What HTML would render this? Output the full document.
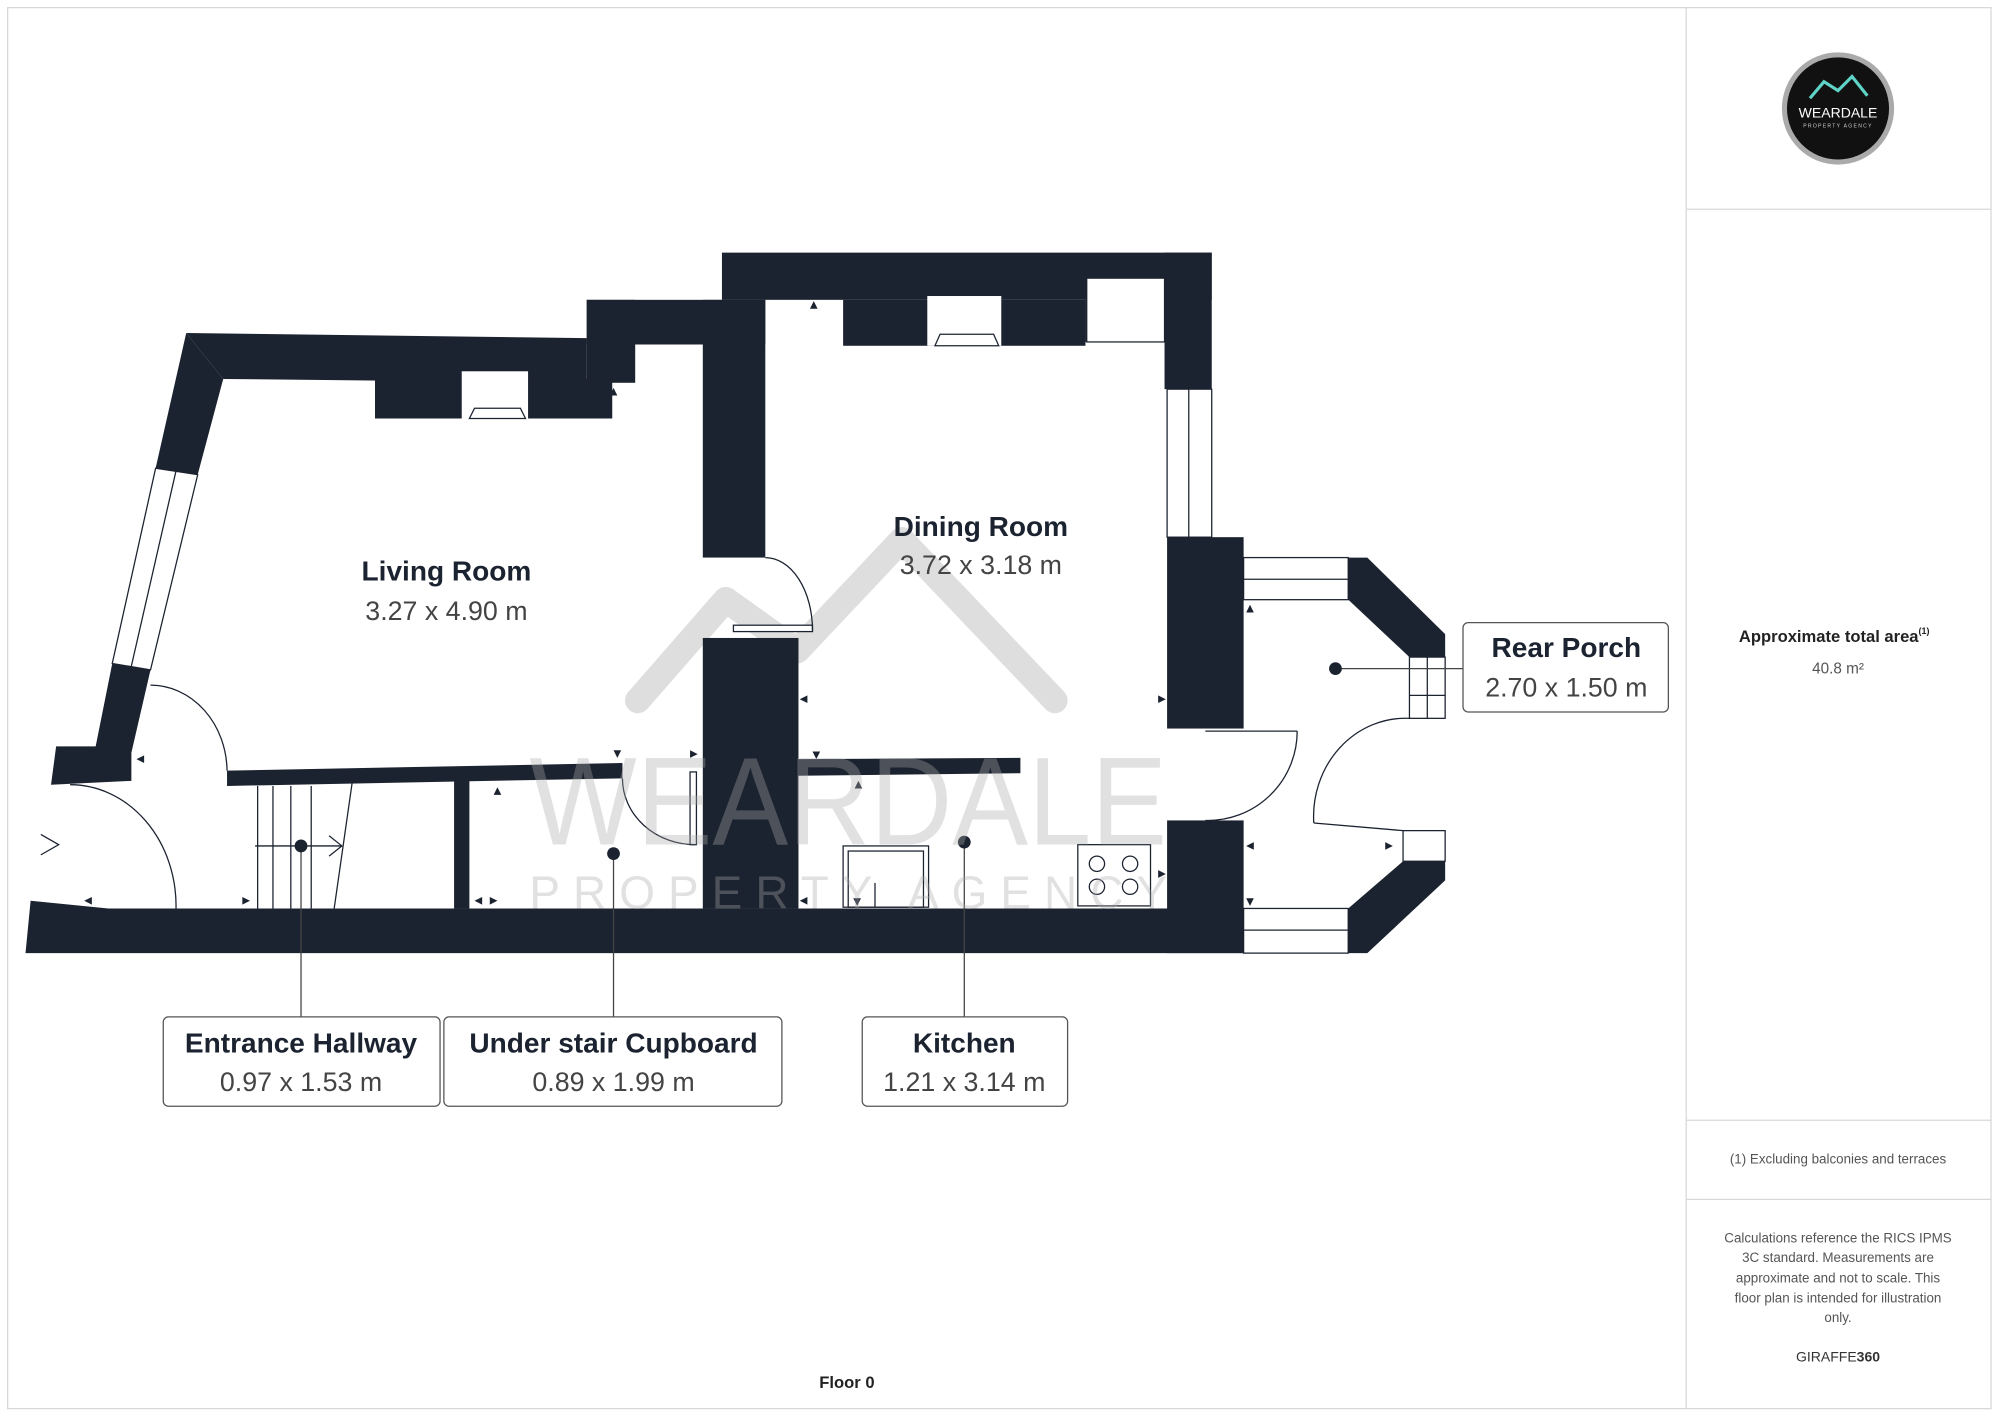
<!DOCTYPE html>
<html><head><meta charset="utf-8"><style>
html,body{margin:0;padding:0;background:#fff;}
svg{display:block;}
text{font-family:"Liberation Sans",sans-serif;}
</style></head><body>
<svg width="2000" height="1415" viewBox="0 0 1568 1109" preserveAspectRatio="none" xmlns="http://www.w3.org/2000/svg">
<rect x="6" y="6" width="1555" height="1098" fill="#fff" stroke="#d8d8d8" stroke-width="1"/>
<line x1="1322" y1="6" x2="1322" y2="1104" stroke="#d8d8d8"/>
<line x1="1322" y1="164" x2="1561" y2="164" stroke="#d8d8d8"/>
<line x1="1322" y1="878" x2="1561" y2="878" stroke="#d8d8d8"/>
<line x1="1322" y1="940" x2="1561" y2="940" stroke="#d8d8d8"/>

<!-- watermark mountain -->
<polyline points="500,549 569,470 625,510 707,423 827,549" fill="none" stroke="#dedede" stroke-width="20" stroke-linecap="round" stroke-linejoin="round"/>

<g fill="#1c2330">
<rect x="566" y="198" width="384" height="37"/>
<rect x="913" y="198" width="37" height="107"/>
<rect x="460" y="235" width="140" height="35"/>
<rect x="551" y="235" width="49" height="202"/>
<rect x="460" y="235" width="38" height="65"/>
<rect x="294" y="297" width="186" height="31"/>
<rect x="661" y="235" width="190" height="36"/>
<rect x="851" y="235" width="62" height="33"/>
<polygon points="146,261 460,265 460,300 175,297"/>
<polygon points="146,261 175,297 155,372 122,367"/>
<polygon points="88,520 118,525 103,590 103,612 40,615 44,585 75,585"/>
<rect x="551" y="500" width="75" height="212"/>
<rect x="915" y="421" width="60" height="150"/>
<rect x="915" y="643" width="60" height="104"/>
<polygon points="24,706 85,712 975,712 975,747 20,747"/>
<polygon points="1057,437 1072,437 1133,497 1133,515 1105,515 1057,470"/>
<polygon points="1100,675 1133,675 1133,690 1072,747 1057,747 1057,712"/>
<polygon points="178,604 488,598 488,610 178,616"/>
<polygon points="626,595 800,594 800,606 626,608"/>
<rect x="356" y="612" width="12" height="100"/>
</g>
<!-- white inserts -->
<g fill="#fff" stroke="#1c2330" stroke-width="1">
<rect x="852" y="218" width="61" height="50"/>
<rect x="727" y="232" width="58" height="39" stroke="none"/>
<rect x="362" y="291" width="52" height="37" stroke="none"/>
<polygon points="733,271 737,262 779,262 783,271"/>
<polygon points="368,328 372,320 408,320 412,328"/>
<polygon points="122,367 155,372 118,525 88,520"/>
<rect x="915" y="305" width="35" height="116"/>
<rect x="975" y="437" width="82" height="33"/>
<rect x="975" y="712" width="82" height="35"/>
<rect x="1105" y="515" width="28" height="48"/>
<rect x="1100" y="651" width="33" height="24"/>
<rect x="575" y="490" width="62" height="5"/>
<rect x="541" y="605" width="5" height="57"/>
</g>
<g stroke="#1c2330" stroke-width="1" fill="none">
<line x1="138" y1="369" x2="103" y2="522"/>
<line x1="932" y1="305" x2="932" y2="421"/>
<line x1="975" y1="454" x2="1057" y2="454"/>
<line x1="975" y1="729" x2="1057" y2="729"/>
<line x1="1119" y1="515" x2="1119" y2="563"/>
<line x1="1105" y1="545" x2="1133" y2="545"/>
<!-- doors -->
<path d="M600,437 A37,57 0 0 1 637,494"/>
<path d="M118,537 A60,68 0 0 1 178,604"/>
<path d="M55,615 A83,95 0 0 1 138,712"/>
<path d="M488,610 A57,52 0 0 0 545,662"/>
<line x1="945" y1="573" x2="1017" y2="573"/><path d="M1017,573 A70,70 0 0 1 945,643"/>
<path d="M1105,563 A72,77 0 0 0 1030,645"/><line x1="1030" y1="645" x2="1100" y2="651"/>
<!-- stairs -->
<line x1="202" y1="616" x2="202" y2="712"/><line x1="214" y1="616" x2="214" y2="712"/>
<line x1="228" y1="616" x2="228" y2="712"/><line x1="244" y1="616" x2="244" y2="712"/>
<line x1="276" y1="614" x2="262" y2="712"/>
<line x1="200" y1="663" x2="268" y2="663"/><polyline points="258,655 268,663 258,671"/>
<polyline points="32,654 46,662 32,670"/>
<!-- kitchen -->
<rect x="661" y="663" width="67" height="48"/><rect x="665" y="667" width="59" height="44"/>
<line x1="686" y1="692" x2="686" y2="711"/>
<rect x="845" y="662" width="57" height="48"/>
<circle cx="860" cy="677" r="6"/><circle cx="886" cy="677" r="6"/>
<circle cx="860" cy="695" r="6"/><circle cx="886" cy="695" r="6"/>
<!-- leaders -->
<line x1="236" y1="663" x2="236" y2="797" stroke="#444"/>
<line x1="481" y1="669" x2="481" y2="797" stroke="#444"/>
<line x1="756" y1="660" x2="756" y2="797" stroke="#444"/>
<line x1="1047" y1="524" x2="1147" y2="524" stroke="#444"/>
</g>
<g fill="#1c2330">
<circle cx="236" cy="663" r="5"/><circle cx="481" cy="669" r="5"/><circle cx="756" cy="660" r="5"/><circle cx="1047" cy="524" r="5"/>
<!-- small arrowheads -->
<polygon points="638,236 635,242 641,242"/>
<polygon points="481,304 478,310 484,310"/>
<polygon points="484,594 481,588 487,588"/>
<polygon points="547,591 541,588 541,594"/>
<polygon points="390,617 387,623 393,623"/>
<polygon points="372,706 378,703 378,709"/>
<polygon points="390,706 384,703 384,709"/>
<polygon points="627,548 633,545 633,551"/>
<polygon points="914,548 908,545 908,551"/>
<polygon points="640,595 637,589 643,589"/>
<polygon points="673,612 670,618 676,618"/>
<polygon points="627,706 633,703 633,709"/>
<polygon points="672,710 669,704 675,704"/>
<polygon points="914,685 908,682 908,688"/>
<polygon points="980,474 977,480 983,480"/>
<polygon points="977,663 983,660 983,666"/>
<polygon points="1092,663 1086,660 1086,666"/>
<polygon points="980,710 977,704 983,704"/>
<polygon points="107,595 113,592 113,598"/>
<polygon points="196,706 190,703 190,709"/>
<polygon points="66,706 72,703 72,709"/>
</g>

<!-- watermark text -->
<g fill="#aaa" opacity="0.35">
<text x="415" y="662" font-size="98" textLength="500" lengthAdjust="spacingAndGlyphs">WEARDALE</text>
<text x="415" y="712" font-size="36" textLength="500" lengthAdjust="spacing">PROPERTY AGENCY</text>
</g>

<text x="350" y="455" font-size="22" font-weight="bold" text-anchor="middle" fill="#1c2330">Living Room</text>
<text x="350" y="486" font-size="21" text-anchor="middle" fill="#444">3.27 x 4.90 m</text>
<text x="769" y="420" font-size="22" font-weight="bold" text-anchor="middle" fill="#1c2330">Dining Room</text>
<text x="769" y="450" font-size="21" text-anchor="middle" fill="#444">3.72 x 3.18 m</text>

<g fill="#fff" stroke="#555" stroke-width="1">
<rect x="128" y="797" width="217" height="70" rx="4"/>
<rect x="348" y="797" width="265" height="70" rx="4"/>
<rect x="676" y="797" width="161" height="70" rx="4"/>
<rect x="1147" y="488" width="161" height="70" rx="4"/>
</g>
<g text-anchor="middle">
<text x="236" y="825" font-size="22" font-weight="bold" fill="#1c2330">Entrance Hallway</text>
<text x="236" y="855" font-size="21" fill="#444">0.97 x 1.53 m</text>
<text x="481" y="825" font-size="22" font-weight="bold" fill="#1c2330">Under stair Cupboard</text>
<text x="481" y="855" font-size="21" fill="#444">0.89 x 1.99 m</text>
<text x="756" y="825" font-size="22" font-weight="bold" fill="#1c2330">Kitchen</text>
<text x="756" y="855" font-size="21" fill="#444">1.21 x 3.14 m</text>
<text x="1228" y="515" font-size="22" font-weight="bold" fill="#1c2330">Rear Porch</text>
<text x="1228" y="546" font-size="21" fill="#444">2.70 x 1.50 m</text>

<text x="664" y="1088" font-size="13" font-weight="bold" fill="#222">Floor 0</text>
<text x="1438" y="503" font-size="13" font-weight="bold" fill="#222">Approximate total area<tspan font-size="7" dy="-6">(1)</tspan></text>
<text x="1441" y="528" font-size="12" fill="#555">40.8 m²</text>
<text x="1441" y="912" font-size="10.5" fill="#555">(1) Excluding balconies and terraces</text>
<g font-size="10.5" fill="#555">
<text x="1441" y="974">Calculations reference the RICS IPMS</text>
<text x="1441" y="989">3C standard. Measurements are</text>
<text x="1441" y="1005">approximate and not to scale. This</text>
<text x="1441" y="1021">floor plan is intended for illustration</text>
<text x="1441" y="1036">only.</text>
</g>
<text x="1441" y="1067" font-size="11" fill="#333">GIRAFFE<tspan font-weight="bold">360</tspan></text>
</g>

<circle cx="1441" cy="85" r="44" fill="#aaa"/>
<circle cx="1441" cy="85" r="40" fill="#111"/>
<polyline points="1419,77 1430,64 1441,71 1452,60 1464,75" fill="none" stroke="#5fd3c6" stroke-width="2.5"/>
<text x="1441" y="92" font-size="11" text-anchor="middle" fill="#fff">WEARDALE</text>
<text x="1441" y="100" font-size="4" text-anchor="middle" fill="#ccc" letter-spacing="1">PROPERTY AGENCY</text>
</svg>
</body></html>
